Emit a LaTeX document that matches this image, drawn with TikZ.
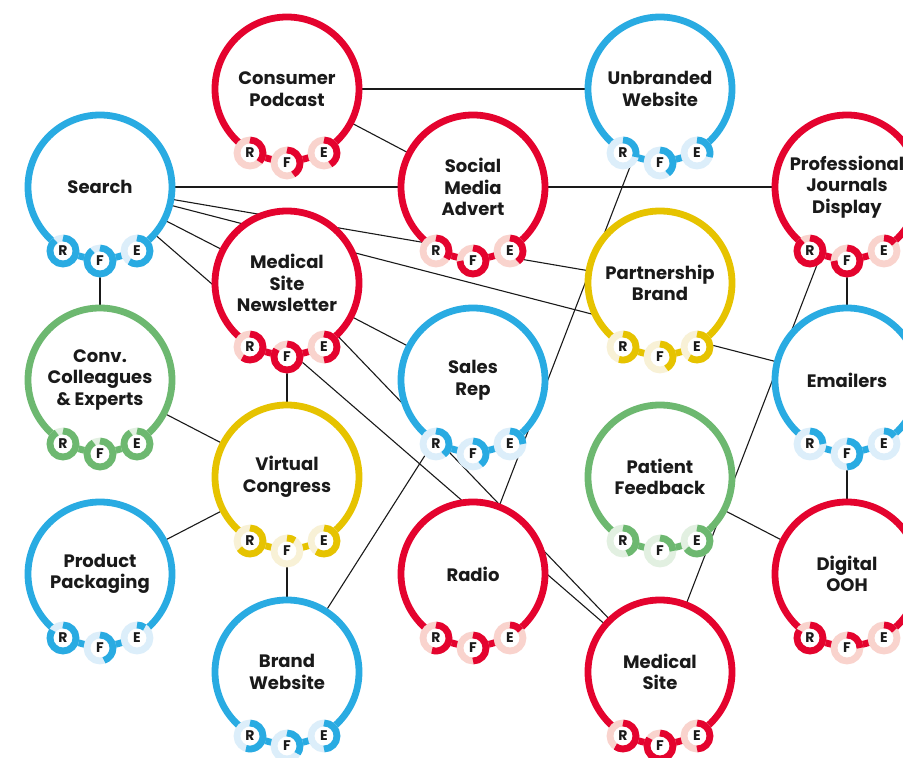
\documentclass[tikz,border=0pt]{standalone}
\usepackage{fontspec}
\setmainfont{Poppins}
\usetikzlibrary{calc,backgrounds}

\definecolor{ink}{HTML}{1A1A1A}
\definecolor{rfred}{HTML}{E4032E}
\definecolor{rfredlight}{HTML}{F9D3CD}
\definecolor{rfblue}{HTML}{29ABE2}
\definecolor{rfbluelight}{HTML}{DCEEFA}
\definecolor{rfyellow}{HTML}{E6C300}
\definecolor{rfyellowlight}{HTML}{F8F1D6}
\definecolor{rfgreen}{HTML}{6DB870}
\definecolor{rfgreenlight}{HTML}{E2F0E1}

% one small ring: node, colour, letter, offset, share
\newcommand{\rfgauge}[5]{%
  \node [gauge, draw=#2light] (#1-#3) at ($(#1)+(#4)$) {#3};
  \draw [line width=6.8pt, #2] (#1-#3.north) arc [start angle=90, delta angle={-360*#5}, radius=13pt];
}
% the three rings under a channel
\newcommand{\rfe}[5]{%
  \rfgauge{#1}{#2}{R}{-37pt,-64pt}{#3}
  \rfgauge{#1}{#2}{F}{0pt,-74pt}{#4}
  \rfgauge{#1}{#2}{E}{37pt,-64pt}{#5}
}

\begin{document}
\begin{tikzpicture}[x=1pt, y=1pt,
  spot/.style={circle, draw=#1, fill=white, line width=6.8pt, minimum size=144pt, inner sep=0pt, outer sep=0pt, align=center, text=ink, font=\bfseries\fontsize{18}{21.5}\selectfont},
  gauge/.style={circle, fill=white, line width=6.8pt, minimum size=26pt, inner sep=0pt, outer sep=0pt, text=ink, font=\bfseries\fontsize{14}{14}\selectfont},
  link/.style={line width=1.1pt, ink}]
\useasboundingbox (0, 0) rectangle (903, 758);
\clip (0, 0) rectangle (903, 758);

\node [spot=rfred] (podcast) at (287, 669) {Consumer\\Podcast};
\node [spot=rfblue] (unbranded) at (660, 669) {Unbranded\\Website};
\node [spot=rfblue] (search) at (100, 571) {Search};
\node [spot=rfred] (social) at (473, 571) {Social\\Media\\Advert};
\node [spot=rfred] (journals) at (847, 571) {Professional\\Journals\\Display};
\node [spot=rfred] (newsletter) at (287, 475) {Medical\\Site\\Newsletter};
\node [spot=rfyellow] (partner) at (660, 475) {Partnership\\Brand};
\node [spot=rfgreen] (conv) at (100, 378) {Conv.\\Colleagues\\\& Experts};
\node [spot=rfblue] (sales) at (473, 378) {Sales\\Rep};
\node [spot=rfblue] (emailers) at (847, 378) {Emailers};
\node [spot=rfyellow] (virtual) at (287, 281) {Virtual\\Congress};
\node [spot=rfgreen] (patient) at (660, 281) {Patient\\Feedback};
\node [spot=rfblue] (packaging) at (100, 184) {Product\\Packaging};
\node [spot=rfred] (radio) at (473, 184) {Radio};
\node [spot=rfred] (digital) at (847, 184) {Digital\\OOH};
\node [spot=rfblue] (brand) at (287, 86) {Brand\\Website};
\node [spot=rfred] (medsite) at (660, 86) {Medical\\Site};

\begin{scope}[on background layer]
\draw [link] (podcast) -- (unbranded);
\draw [link] (podcast) -- (social);
\draw [link] (search) -- (social);
\draw [link] (social) -- (journals);
\draw [link] (search) -- (partner);
\draw [link] (search) -- (emailers);
\draw [link] (search) -- (newsletter);
\draw [link] (search) -- (medsite);
\draw [link] (search) -- (conv);
\draw [link] (newsletter) -- (virtual);
\draw [link] (newsletter) -- (sales);
\draw [link] (newsletter) -- (medsite);
\draw [link] (unbranded) -- (radio);
\draw [link] (journals) -- (emailers);
\draw [link] (journals) -- (medsite);
\draw [link] (emailers) -- (digital);
\draw [link] (conv) -- (virtual);
\draw [link] (packaging) -- (virtual);
\draw [link] (virtual) -- (brand);
\draw [link] (brand) -- (sales);
\draw [link] (patient) -- (digital);
\end{scope}

\rfe{podcast}{rfred}{0.37}{0.42}{0.42}
\rfe{unbranded}{rfblue}{0.3}{0.4}{0.3}
\rfe{search}{rfblue}{0.9}{0.9}{0.6}
\rfe{social}{rfred}{0.35}{0.75}{0.4}
\rfe{journals}{rfred}{0.9}{0.75}{0.15}
\rfe{newsletter}{rfred}{0.6}{0.85}{0.5}
\rfe{partner}{rfyellow}{0.55}{0.42}{0.6}
\rfe{conv}{rfgreen}{0.92}{0.92}{0.92}
\rfe{sales}{rfblue}{0.4}{0.4}{0.25}
\rfe{emailers}{rfblue}{0.25}{0.5}{0.15}
\rfe{virtual}{rfyellow}{0.65}{0.1}{0.6}
\rfe{patient}{rfgreen}{0.45}{0.25}{0.65}
\rfe{packaging}{rfblue}{0.85}{0.45}{0.1}
\rfe{radio}{rfred}{0.55}{0.5}{0.15}
\rfe{digital}{rfred}{0.85}{0.25}{0.15}
\rfe{brand}{rfblue}{0.55}{0.35}{0.5}
\rfe{medsite}{rfred}{0.6}{0.85}{0.5}
\end{tikzpicture}
\end{document}
